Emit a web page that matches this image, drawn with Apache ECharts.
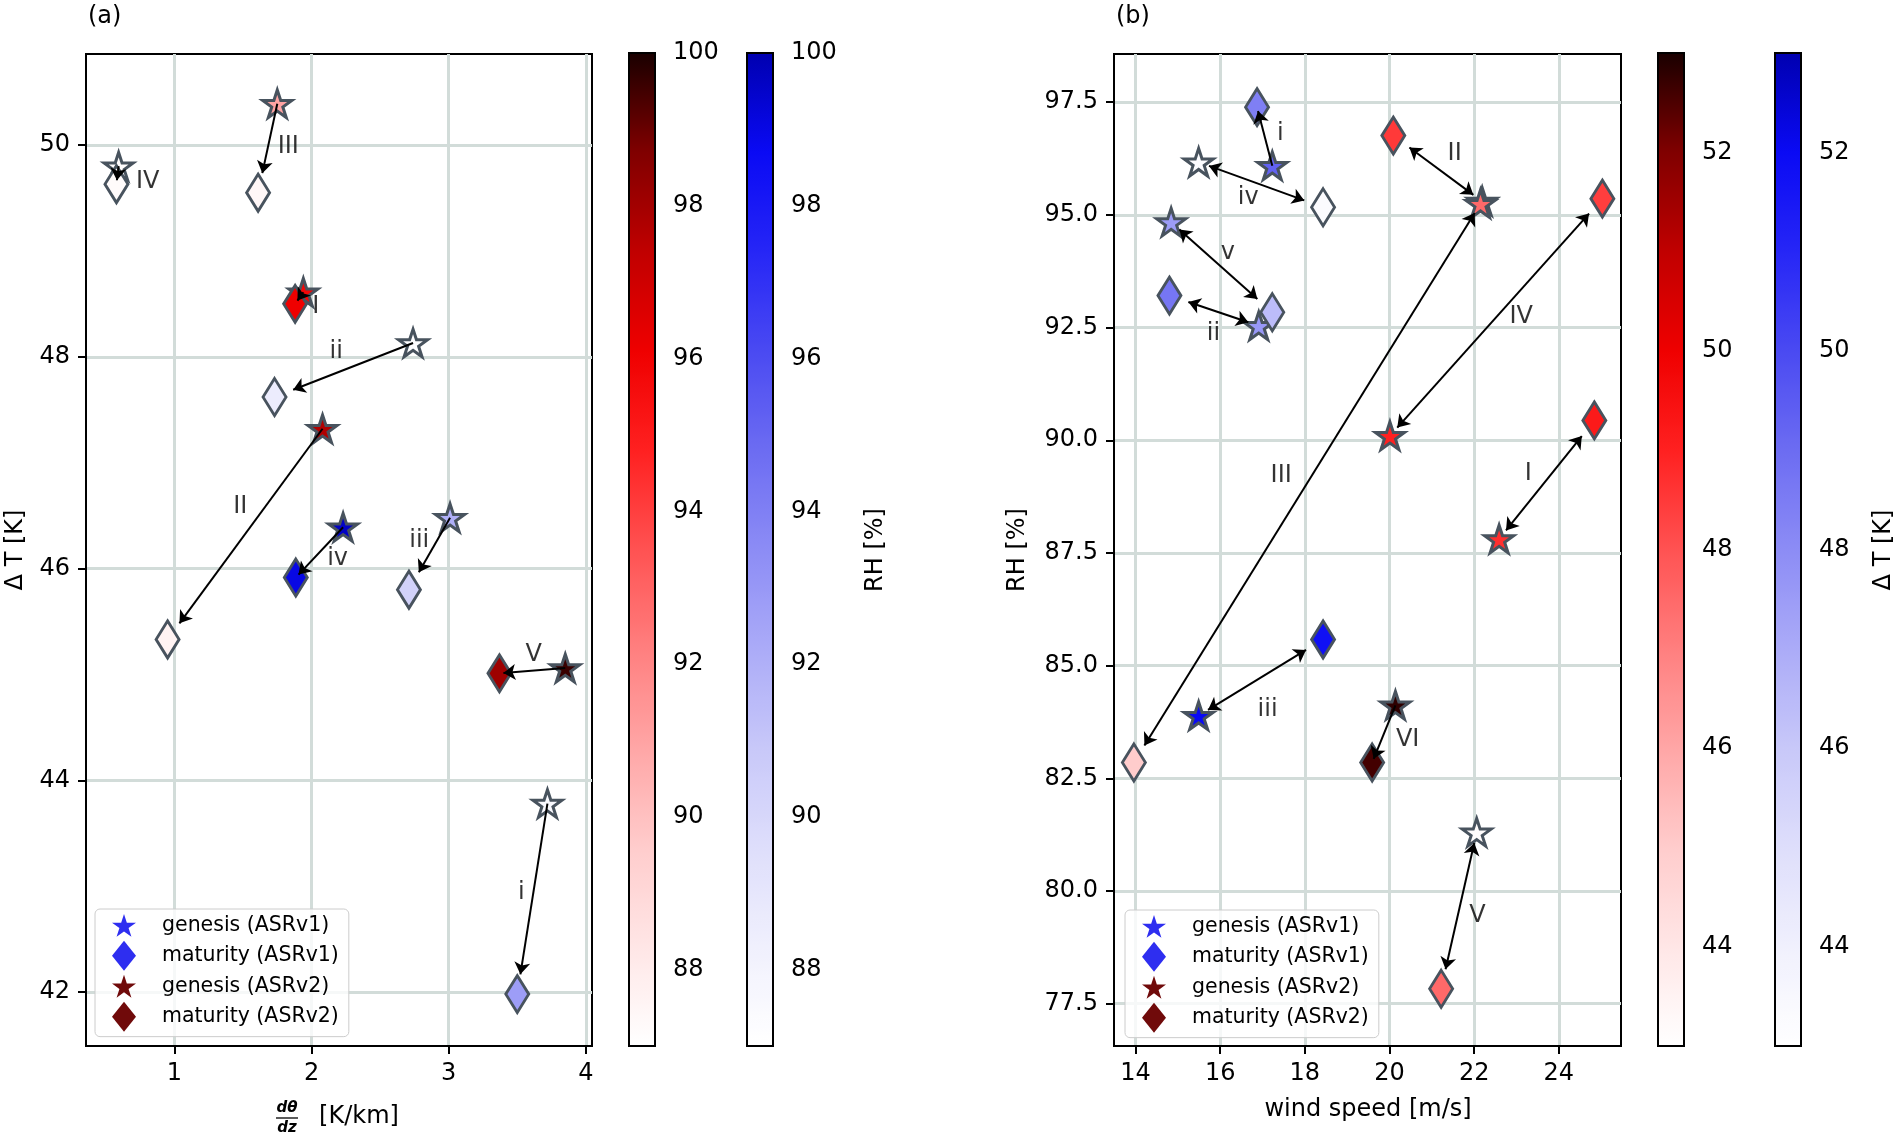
<!DOCTYPE html>
<html>
<head>
<meta charset="utf-8">
<script src="https://cdn.jsdelivr.net/npm/echarts@6/dist/echarts.min.js"></script>
<style>
  html, body { margin: 0; padding: 0; background: #fff; }
  #chart { width: 1900px; height: 1136px; }
</style>
</head>
<body>
<div id="chart"></div>
<script>
// ---- data ----
// panel (a): [dtheta/dz (K/km), Delta T (K), RH (%)]
const aV1Names = ['i', 'ii', 'iii', 'iv'];
const aV1Genesis = [[3.72, 43.78, 87.6], [2.74, 48.13, 87.2], [3.01, 46.48, 92.0], [2.23, 46.39, 99.6]];
const aV1Maturity = [[3.50, 41.98, 92.8], [1.73, 47.62, 88.6], [2.71, 45.80, 90.3], [1.885, 45.915, 99.0]];
const aV2Names = ['I', 'II', 'III', 'IV', 'V'];
const aV2Genesis = [[1.94, 48.61, 95.8], [2.08, 47.32, 97.7], [1.75, 50.39, 91.0], [0.593, 49.80, 87.1], [3.85, 45.06, 99.6]];
const aV2Maturity = [[1.88, 48.50, 96.1], [0.95, 45.33, 87.6], [1.61, 49.55, 87.4], [0.577, 49.63, 87.2], [3.37, 45.01, 98.1]];
const aV1LabelPos = [[3.53, 42.94], [2.18, 48.05], [2.785, 46.26], [2.19, 46.09]];
const aV2LabelPos = [[2.03, 48.47], [1.48, 46.58], [1.83, 49.98], [0.805, 49.65], [3.62, 45.19]];

// panel (b): [wind speed (m/s), RH (%), Delta T (K)]
const bV1Names = ['i', 'ii', 'iii', 'iv', 'v'];
const bV1Genesis = [[17.23, 96.09, 49.3], [16.91, 92.54, 47.6], [15.49, 83.89, 52.0], [15.49, 96.17, 43.2], [14.84, 94.84, 47.5]];
const bV1Maturity = [[16.87, 97.39, 48.4], [14.80, 93.21, 48.7], [18.43, 85.58, 51.8], [18.43, 95.17, 43.3], [17.23, 92.84, 46.4]];
const bV2Names = ['I', 'II', 'III', 'IV', 'V', 'VI'];
const bV2Genesis = [[22.59, 87.81, 48.7], [22.19, 95.30, 47.5], [22.15, 95.25, 47.5], [20.01, 90.10, 49.0], [22.06, 81.30, 43.1], [20.14, 84.12, 52.8]];
const bV2Maturity = [[24.84, 90.44, 49.2], [20.09, 96.76, 48.5], [13.96, 82.85, 45.0], [25.03, 95.36, 48.4], [21.22, 77.83, 47.5], [19.59, 82.85, 52.6]];
const bV1LabelPos = [[17.42, 96.80], [15.84, 92.36], [17.12, 84.02], [16.66, 95.39], [16.18, 94.17]];
const bV2LabelPos = [[23.28, 89.25], [21.54, 96.35], [17.44, 89.22], [23.11, 92.73], [22.08, 79.44], [20.43, 83.36]];

// tick labels
const aXTicks = [1, 2, 3, 4];
const aYTicks = [42, 44, 46, 48, 50];
const bXTicks = [14, 16, 18, 20, 22, 24];
const bYTicks = [77.5, 80.0, 82.5, 85.0, 87.5, 90.0, 92.5, 95.0, 97.5];
const rhTicks = [88, 90, 92, 94, 96, 98, 100];
const dtTicks = [44, 46, 48, 50, 52];

const legendNames = ['genesis (ASRv1)', 'maturity (ASRv1)', 'genesis (ASRv2)', 'maturity (ASRv2)'];

// ---- styling ----
const FONT = 'DejaVu Sans';
const STAR = 'path://M50,0L61.23,34.55L97.55,34.55L68.17,55.9L79.39,90.45L50,69.1L20.61,90.45L31.83,55.9L2.45,34.55L38.77,34.55Z';
const EDGE = '#48535e';
const GRIDLINE = '#d2dcd9';
const REDS = ['#ffffff', '#ffe6e6', '#ffcccc', '#ffa6a6', '#ff7f7f', '#ff5252', '#ff2020', '#ef0000', '#c00000', '#800000', '#1a0000'];
const BLUES = ['#ffffff', '#f0f0fd', '#dedefb', '#c8c8f9', '#ababf8', '#8c8cf5', '#6c6cf2', '#4a4af2', '#2626f6', '#0a0af4', '#0000b0'];
const LEG_BLUE = '#2e2ef0';
const LEG_RED = '#700a0a';

const chart = echarts.init(document.getElementById('chart'));

function mainAxis(min, max, ticks, fmt) {
  return {
    type: 'value', min: min, max: max, scale: true,
    axisLine: { show: true, onZero: false, lineStyle: { color: '#000', width: 2 } },
    axisTick: { show: true, customValues: ticks, length: 8, lineStyle: { color: '#000', width: 2 } },
    axisLabel: { customValues: ticks, fontSize: 24, fontFamily: FONT, color: '#000', margin: 16,
      formatter: fmt || (v => String(v)) },
    splitLine: { show: true, lineStyle: { color: GRIDLINE, width: 3 } }
  };
}

function cbAxis(min, max, ticks) {
  return {
    type: 'value', position: 'right', min: min, max: max,
    axisLine: { show: false },
    axisTick: { show: true, customValues: ticks, length: 8, lineStyle: { color: '#000', width: 2 } },
    axisLabel: { customValues: ticks, fontSize: 24, fontFamily: FONT, color: '#000', margin: 18 },
    splitLine: { show: false }
  };
}

function markers(name, gi, data, symbol) {
  const star = symbol === 'star';
  return {
    type: 'scatter', name: name, xAxisIndex: gi, yAxisIndex: gi,
    symbol: star ? STAR : 'diamond',
    symbolSize: star ? 29 : [23, 37],
    symbolKeepAspect: star,
    itemStyle: { color: name.indexOf('ASRv1') >= 0 ? LEG_BLUE : LEG_RED, borderColor: EDGE,
      borderWidth: 3, opacity: 1 },
    data: data, silent: true, z: 3
  };
}

function labelSeries(gi, names, pos) {
  return {
    type: 'scatter', xAxisIndex: gi, yAxisIndex: gi, symbolSize: 1,
    itemStyle: { color: 'rgba(0,0,0,0)' },
    label: { show: true, position: 'inside', formatter: '{b}', fontSize: 24, fontFamily: FONT, color: '#000' },
    data: names.map((n, k) => ({ name: n, value: pos[k] })),
    silent: true, z: 6
  };
}

function vmap(min, max, colors, seriesIndex, left) {
  return {
    type: 'continuous', min: min, max: max, dimension: 2, seriesIndex: seriesIndex,
    calculable: false, realtime: false, hoverLink: false,
    left: left, top: 53, itemWidth: 26, itemHeight: 993, padding: 0,
    inRange: { color: colors }
  };
}

function legendBox(left, top) {
  return {
    orient: 'vertical', left: left, top: top, selectedMode: false,
    padding: [5, 10, 5, 17], itemWidth: 24, itemHeight: 30, itemGap: 4,
    backgroundColor: 'rgba(255,255,255,0.8)', borderColor: '#cccccc', borderWidth: 1, borderRadius: 5,
    itemStyle: { borderWidth: 0 },
    textStyle: { fontSize: 20.5, fontFamily: FONT, color: '#000', padding: [0, 0, 0, 21] },
    data: [
      { name: legendNames[0], icon: STAR, itemStyle: { color: LEG_BLUE, borderWidth: 0 } },
      { name: legendNames[1], icon: 'diamond', itemStyle: { color: LEG_BLUE, borderWidth: 0 } },
      { name: legendNames[2], icon: STAR, itemStyle: { color: LEG_RED, borderWidth: 0 } },
      { name: legendNames[3], icon: 'diamond', itemStyle: { color: LEG_RED, borderWidth: 0 } }
    ]
  };
}

function txt(x, y, s, size, rot, extra) {
  return Object.assign({
    type: 'text', x: x, y: y, rotation: rot || 0, silent: true, z: 100,
    style: { text: s, fontSize: size, fontFamily: FONT, fill: '#000', align: 'center', verticalAlign: 'middle' }
  }, extra || {});
}

const gridFrame = { show: true, borderColor: '#000', borderWidth: 2, backgroundColor: 'transparent' };

chart.setOption({
  animation: false,
  backgroundColor: '#fff',
  grid: [
    Object.assign({ left: 86, top: 54, width: 506, height: 992 }, gridFrame),
    Object.assign({ left: 1114, top: 54, width: 507, height: 992 }, gridFrame),
    Object.assign({ left: 629, top: 53, width: 26, height: 993, z: 10 }, gridFrame),
    Object.assign({ left: 747, top: 53, width: 26, height: 993, z: 10 }, gridFrame),
    Object.assign({ left: 1658, top: 53, width: 26, height: 993, z: 10 }, gridFrame),
    Object.assign({ left: 1775, top: 53, width: 26, height: 993, z: 10 }, gridFrame)
  ],
  xAxis: [
    Object.assign(mainAxis(0.355, 4.045, aXTicks), { gridIndex: 0 }),
    Object.assign(mainAxis(13.49, 25.47, bXTicks), { gridIndex: 1 }),
    { gridIndex: 2, type: 'value', show: false, min: 0, max: 1 },
    { gridIndex: 3, type: 'value', show: false, min: 0, max: 1 },
    { gridIndex: 4, type: 'value', show: false, min: 0, max: 1 },
    { gridIndex: 5, type: 'value', show: false, min: 0, max: 1 }
  ],
  yAxis: [
    Object.assign(mainAxis(41.49, 50.86, aYTicks), { gridIndex: 0 }),
    Object.assign(mainAxis(76.56, 98.57, bYTicks, v => v.toFixed(1)), { gridIndex: 1 }),
    Object.assign(cbAxis(87, 100, rhTicks), { gridIndex: 2 }),
    Object.assign(cbAxis(87, 100, rhTicks), { gridIndex: 3 }),
    Object.assign(cbAxis(43, 53, dtTicks), { gridIndex: 4 }),
    Object.assign(cbAxis(43, 53, dtTicks), { gridIndex: 5 })
  ],
  visualMap: [
    vmap(87, 100, REDS, [2, 3], 629),
    vmap(87, 100, BLUES, [0, 1], 747),
    vmap(43, 53, REDS, [6, 7], 1658),
    vmap(43, 53, BLUES, [4, 5], 1775)
  ],
  legend: [legendBox(95, 909), legendBox(1125, 910)],
  series: [
    markers(legendNames[0], 0, aV1Genesis, 'star'),
    markers(legendNames[1], 0, aV1Maturity, 'diamond'),
    markers(legendNames[2], 0, aV2Genesis, 'star'),
    markers(legendNames[3], 0, aV2Maturity, 'diamond'),
    markers(legendNames[0], 1, bV1Genesis, 'star'),
    markers(legendNames[1], 1, bV1Maturity, 'diamond'),
    markers(legendNames[2], 1, bV2Genesis, 'star'),
    markers(legendNames[3], 1, bV2Maturity, 'diamond'),
    labelSeries(0, aV1Names.concat(aV2Names), aV1LabelPos.concat(aV2LabelPos)),
    labelSeries(1, bV1Names.concat(bV2Names), bV1LabelPos.concat(bV2LabelPos))
  ],
  graphic: [
    txt(88, 17, '(a)', 24, 0, { style: { text: '(a)', fontSize: 24, fontFamily: FONT, fill: '#000', align: 'left', verticalAlign: 'middle' } }),
    txt(1116, 17, '(b)', 24, 0, { style: { text: '(b)', fontSize: 24, fontFamily: FONT, fill: '#000', align: 'left', verticalAlign: 'middle' } }),
    txt(16, 550, 'Δ T [K]', 24, Math.PI / 2),
    txt(876, 550, 'RH [%]', 24, Math.PI / 2),
    txt(1018, 550, 'RH [%]', 24, Math.PI / 2),
    txt(1884, 550, 'Δ T [K]', 24, Math.PI / 2),
    txt(1368, 1110, 'wind speed [m/s]', 24, 0),
    txt(287, 1108, 'dθ', 15, 0, { style: { text: 'dθ', fontSize: 15, fontStyle: 'italic', fontWeight: 'bold', fontFamily: FONT, fill: '#000', align: 'center', verticalAlign: 'middle' } }),
    txt(287, 1128, 'dz', 15, 0, { style: { text: 'dz', fontSize: 15, fontStyle: 'italic', fontWeight: 'bold', fontFamily: FONT, fill: '#000', align: 'center', verticalAlign: 'middle' } }),
    { type: 'line', silent: true, z: 100, shape: { x1: 276, y1: 1118, x2: 298, y2: 1118 }, style: { stroke: '#000', lineWidth: 1.3 } },
    txt(359, 1117, '[K/km]', 24, 0)
  ]
});

// arrows: star -> diamond, shortened in pixel space so the heads meet the marker edges
function arrows(gi, gen, mat, startShrink, endShrink) {
  return gen.map((g, k) => {
    const p0 = chart.convertToPixel({ gridIndex: gi }, [g[0], g[1]]);
    const p1 = chart.convertToPixel({ gridIndex: gi }, [mat[k][0], mat[k][1]]);
    const dx = p1[0] - p0[0], dy = p1[1] - p0[1];
    const len = Math.hypot(dx, dy);
    const short = len < 70;
    const s0 = short ? 0 : startShrink, s1 = short ? 4 : endShrink;
    const a = [p0[0] + dx * s0 / len, p0[1] + dy * s0 / len];
    const b = [p1[0] - dx * s1 / len, p1[1] - dy * s1 / len];
    return {
      coords: [chart.convertFromPixel({ gridIndex: gi }, a), chart.convertFromPixel({ gridIndex: gi }, b)],
      symbol: short || !startShrink ? ['none', 'arrow'] : ['arrow', 'arrow']
    };
  });
}

function arrowSeries(gi, data) {
  return {
    type: 'lines', coordinateSystem: 'cartesian2d', xAxisIndex: gi, yAxisIndex: gi,
    symbol: ['none', 'arrow'], symbolSize: 12,
    lineStyle: { color: '#000', width: 2, opacity: 1, curveness: 0 },
    data: data, silent: true, z: 5
  };
}

chart.setOption({
  series: [
    arrowSeries(0, arrows(0, aV1Genesis, aV1Maturity, 0, 20).concat(arrows(0, aV2Genesis, aV2Maturity, 0, 20))),
    arrowSeries(1, arrows(1, bV1Genesis, bV1Maturity, 11, 20).concat(arrows(1, bV2Genesis, bV2Maturity, 11, 20)))
  ].map((s, k) => Object.assign(s, { id: 'arrows' + k }))
});
</script>
</body>
</html>
